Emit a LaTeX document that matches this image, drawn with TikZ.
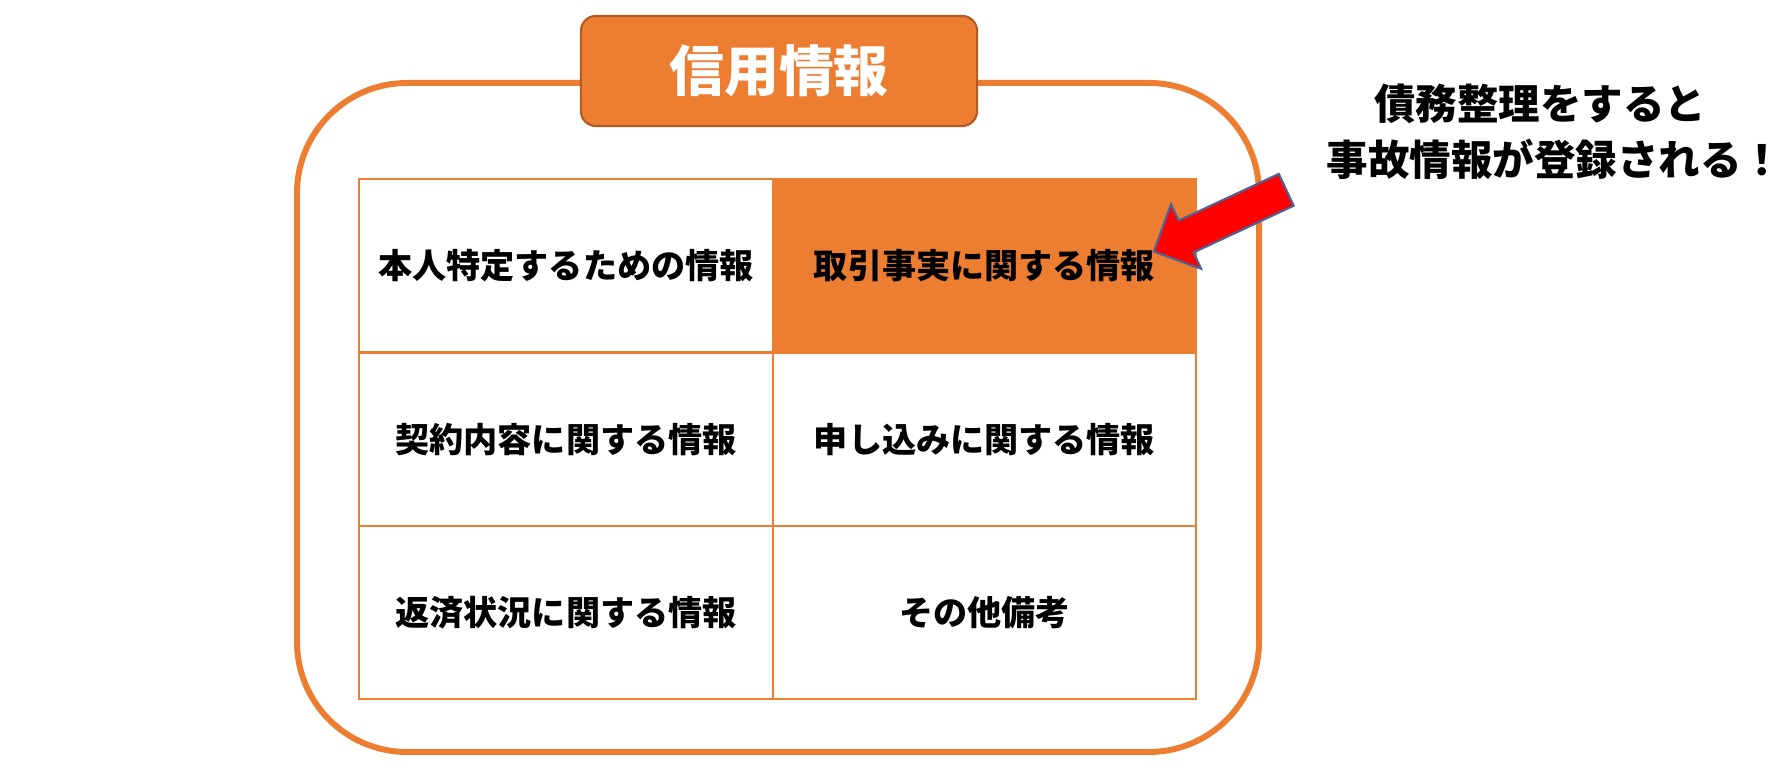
\documentclass[tikz,border=0pt]{standalone}
\usepackage{fontspec}
\setmainfont{Noto Sans CJK JP}
\usepackage{tikz}
\usetikzlibrary{shapes.arrows}

\definecolor{accent}{HTML}{ED7D31}
\definecolor{accentdark}{HTML}{B15C22}
\definecolor{pointerline}{HTML}{4A6394}

\begin{document}
\begin{tikzpicture}[
    x=0.01cm, y=-0.01cm,
    every node/.style={font=\bfseries},
    frame/.style={draw=accent, line width=1.7pt, rounded corners=1.1cm},
    titlebox/.style={rectangle, rounded corners=0.15cm, draw=accentdark, line width=0.6pt, fill=accent,
        text=white, minimum width=3.96cm, minimum height=1.1cm, font=\fontsize{15.6}{18}\selectfont\bfseries},
    cell/.style={rectangle, draw=accent, line width=0.6pt, minimum height=1.73cm, inner sep=0pt,
        font=\fontsize{9.7}{12}\selectfont\bfseries},
    hicell/.style={cell, fill=accent},
    note/.style={align=center, font=\fontsize{11.8}{15.8}\selectfont\bfseries},
    pointer/.style={single arrow, draw=pointerline, line width=0.6pt, fill=red, inner xsep=0pt,
        inner ysep=0.165cm, minimum height=1.46cm, single arrow head extend=0.18cm}
]
\useasboundingbox (0,0) rectangle (1778,774);

% outer frame and heading
\draw[frame] (297,83) rectangle (1259,752);
\node[titlebox] (Title) at (779,71) {信用情報};

% table of items
\node[cell, minimum width=4.14cm] (Ident) at (566,265.5) {本人特定するための情報};
\node[hicell, minimum width=4.23cm] (Trade) at (984.5,265.5) {取引事実に関する情報};
\node[cell, minimum width=4.14cm] (Contract) at (566,439.5) {契約内容に関する情報};
\node[cell, minimum width=4.23cm] (Apply) at (984.5,439.5) {申し込みに関する情報};
\node[cell, minimum width=4.14cm] (Repay) at (566,612.5) {返済状況に関する情報};
\node[cell, minimum width=4.23cm] (Other) at (984.5,612.5) {その他備考};

% remark and pointer
\node[note] (Remark) at (1540,132) {債務整理をすると\\\hspace*{0.3cm}事故情報が登録される！};
\node[pointer, rotate=205] (Pointer) at (1228,217) {};

\end{tikzpicture}
\end{document}
